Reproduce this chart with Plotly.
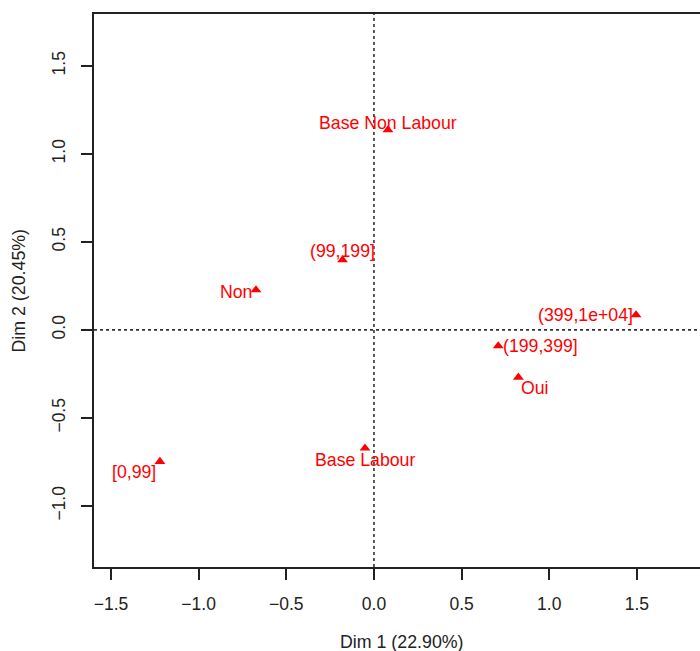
import plotly.graph_objects as go

# Category coordinates (MCA factor map)
labels = ["Base Non Labour", "(99,199]", "Non", "(399,1e+04]", "(199,399]", "Oui", "Base Labour", "[0,99]"]
dim1 = [0.080, -0.179, -0.673, 1.495, 0.709, 0.824, -0.051, -1.221]
dim2 = [1.136, 0.398, 0.227, 0.085, -0.091, -0.269, -0.672, -0.748]

# label pixel offsets relative to the marker (style only)
label_dx = [0, 0, -20, -51, 42, 17, 0, -26]
label_dy = [7, 9, -2, 0, 0, -11, -12, -10]

xticks = [-1.5, -1.0, -0.5, 0.0, 0.5, 1.0, 1.5]
yticks = [-1.0, -0.5, 0.0, 0.5, 1.0, 1.5]
xlab = "Dim 1 (22.90%)"
ylab = "Dim 2 (20.45%)"

FONT = "Liberation Sans, Arial, sans-serif"
RED = "#FF0000"

fig = go.Figure()
fig.add_trace(go.Scatter(
    x=dim1, y=dim2, mode="markers",
    marker=dict(symbol="triangle-up", size=9.5, color=RED, line=dict(width=0)),
    hoverinfo="text", text=labels, showlegend=False,
))

for lab, x, y, dx, dy in zip(labels, dim1, dim2, label_dx, label_dy):
    fig.add_annotation(x=x, y=y, text=lab, showarrow=False, xshift=dx, yshift=dy,
                       xanchor="center", yanchor="middle",
                       font=dict(family=FONT, size=17.7, color=RED))

xr = [-1.597, 1.860]
yr = [-1.347, 1.795]

# reference lines through the origin
fig.add_shape(type="line", x0=0, x1=0, y0=yr[0], y1=yr[1], xref="x", yref="y",
              line=dict(color="#333333", width=1.6, dash="3px,3px"), layer="below")
fig.add_shape(type="line", x0=xr[0], x1=xr[1], y0=0, y1=0, xref="x", yref="y",
              line=dict(color="#333333", width=1.6, dash="3px,3px"), layer="below")

axis_common = dict(
    showgrid=False, zeroline=False, showline=True, linecolor="#222222", linewidth=1.5,
    ticks="outside", ticklen=11, tickwidth=1.5, tickcolor="#222222",
    tickfont=dict(family=FONT, size=17.5, color="#222222"),
)

fig.update_xaxes(range=xr, tickvals=xticks, ticktext=[f"{v:.1f}".replace("-", "\u2212") for v in xticks],
                 mirror=True, ticklabelstandoff=9, **axis_common)
fig.update_yaxes(range=yr, tickvals=yticks, ticktext=[f"{v:.1f}".replace("-", "\u2212") for v in yticks],
                 tickangle=-90, ticklabelstandoff=9, **axis_common)

fig.add_annotation(xref="paper", yref="paper", x=0.5, y=0, xshift=5, yshift=-75,
                   text=xlab, showarrow=False, xanchor="center", yanchor="middle",
                   font=dict(family=FONT, size=17.8, color="#222222"))
fig.add_annotation(xref="paper", yref="paper", x=0, y=0.5, xshift=-76,
                   text=ylab, showarrow=False, textangle=-90, xanchor="center", yanchor="middle",
                   font=dict(family=FONT, size=17.8, color="#222222"))

fig.update_layout(
    width=700, height=651,
    margin=dict(l=94, r=0, t=14, b=84),
    paper_bgcolor="white", plot_bgcolor="white",
)

fig.write_html("out.html")
